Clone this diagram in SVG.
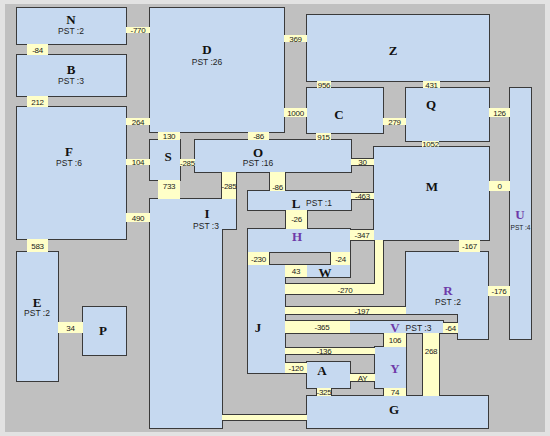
<svg xmlns="http://www.w3.org/2000/svg" xmlns:xlink="http://www.w3.org/1999/xlink" width="550" height="436" viewBox="0 0 550 436">
<style>
.ol{fill:none;stroke:#3a3a3a;stroke-width:2}
.rm{fill:#c6d9f0}
.dr{fill:#ffffc8}
.nm{font-family:"Liberation Serif","Times New Roman",serif;font-weight:bold;font-size:13px;text-anchor:middle;fill:#111}
.pu{fill:#6e3aa8}
.ps{font-family:"Liberation Sans",Arial,sans-serif;font-size:8.5px;text-anchor:middle;fill:#222}
.dl{font-family:"Liberation Sans",Arial,sans-serif;font-size:8px;text-anchor:middle;fill:#222;letter-spacing:-0.3px}
</style>
<defs>
<rect id="sN" x="17" y="8" width="109" height="36"/>
<rect id="sB" x="17" y="55" width="109" height="41"/>
<rect id="sF" x="17" y="107" width="109" height="132"/>
<rect id="sE" x="17" y="252" width="41" height="129"/>
<rect id="sP" x="83" y="307" width="43" height="48"/>
<rect id="sD" x="150" y="8" width="134" height="124"/>
<rect id="sZ" x="307" y="15" width="182" height="66"/>
<rect id="sC" x="307" y="88" width="76" height="45"/>
<rect id="sQ" x="406" y="88" width="83" height="53"/>
<rect id="sU" x="510" y="88" width="21" height="251"/>
<rect id="sM" x="374" y="147" width="115" height="93"/>
<rect id="sO" x="195" y="140" width="156" height="32"/>
<rect id="sS" x="150" y="140" width="30" height="40"/>
<polygon id="sI" points="150,199 236,199 236,229 222,229 222,428 150,428"/>
<rect id="sL" x="248" y="191" width="103" height="19"/>
<rect id="sH" x="248" y="229" width="102" height="23"/>
<rect id="sJ" x="248" y="265" width="37" height="108"/>
<rect id="sW" x="307" y="265" width="43" height="12"/>
<polygon id="sR" points="406,252 488,252 488,339 458,339 458,314 406,314"/>
<rect id="sV" x="350" y="321" width="93" height="12"/>
<rect id="sY" x="375" y="347" width="31" height="41"/>
<rect id="sA" x="307" y="362" width="43" height="26"/>
<rect id="sG" x="307" y="396" width="181" height="32"/>
<rect id="d285b" x="222" y="172" width="14" height="27"/>
<rect id="d86b" x="270" y="172" width="15" height="19"/>
<rect id="d26" x="286" y="210" width="21" height="19"/>
<rect id="d463" x="351" y="193" width="23" height="6"/>
<rect id="d30" x="351" y="159" width="23" height="6"/>
<rect id="d347" x="350" y="230" width="24" height="10"/>
<rect id="d230" x="248" y="252" width="21" height="13"/>
<rect id="d24" x="331" y="252" width="19" height="13"/>
<rect id="d43" x="285" y="265" width="22" height="12"/>
<polygon id="d270" points="285,284 375,284 375,240 383,240 383,294 285,294"/>
<rect id="d197" x="285" y="307" width="121" height="7"/>
<rect id="d365" x="285" y="321" width="65" height="12"/>
<rect id="d64" x="443" y="323" width="15" height="10"/>
<rect id="d106" x="384" y="333" width="22" height="14"/>
<rect id="d268" x="423" y="333" width="16" height="63"/>
<rect id="d136" x="285" y="348" width="90" height="6"/>
<rect id="d120" x="285" y="363" width="22" height="10"/>
<rect id="dAY" x="350" y="374" width="25" height="7"/>
<rect id="d325" x="317" y="388" width="14" height="8"/>
<rect id="d74" x="384" y="388" width="22" height="8"/>
<rect id="dIG" x="222" y="415" width="85" height="5"/>
</defs>
<rect x="0" y="0" width="550" height="436" fill="#e2e2e2"/>
<rect x="5" y="4" width="540" height="428" fill="#c0c0c0"/>
<g id="outlines" class="ol">
<use href="#sN"/><use href="#sB"/><use href="#sF"/><use href="#sE"/><use href="#sP"/><use href="#sD"/><use href="#sZ"/><use href="#sC"/><use href="#sQ"/><use href="#sU"/><use href="#sM"/><use href="#sO"/><use href="#sS"/><use href="#sI"/><use href="#sL"/><use href="#sH"/><use href="#sJ"/><use href="#sW"/><use href="#sR"/><use href="#sV"/><use href="#sY"/><use href="#sA"/><use href="#sG"/>
<use href="#d285b"/><use href="#d86b"/><use href="#d26"/><use href="#d463"/><use href="#d30"/><use href="#d347"/><use href="#d230"/><use href="#d24"/><use href="#d43"/><use href="#d270"/><use href="#d197"/><use href="#d365"/><use href="#d64"/><use href="#d106"/><use href="#d268"/><use href="#d136"/><use href="#d120"/><use href="#dAY"/><use href="#d325"/><use href="#d74"/><use href="#dIG"/>
</g>
<g id="N"><use href="#sN" class="rm"/><text class="nm" x="71" y="23.5">N</text><text class="ps" x="71" y="34">PST :2</text></g>
<g id="B"><use href="#sB" class="rm"/><text class="nm" x="71" y="73.5">B</text><text class="ps" x="71" y="84">PST :3</text></g>
<g id="F"><use href="#sF" class="rm"/><text class="nm" x="69" y="156">F</text><text class="ps" x="69" y="166">PST :6</text></g>
<g id="E"><use href="#sE" class="rm"/><text class="nm" x="37" y="306.5">E</text><text class="ps" x="37" y="316">PST :2</text></g>
<g id="P"><use href="#sP" class="rm"/><text class="nm" x="103" y="334.5">P</text></g>
<g id="D"><use href="#sD" class="rm"/><text class="nm" x="207" y="53.5">D</text><text class="ps" x="207" y="65">PST :26</text></g>
<g id="Z"><use href="#sZ" class="rm"/><text class="nm" x="393" y="54.5">Z</text></g>
<g id="C"><use href="#sC" class="rm"/><text class="nm" x="339" y="118.5">C</text></g>
<g id="Q"><use href="#sQ" class="rm"/><text class="nm" x="431" y="108.5">Q</text></g>
<g id="U"><use href="#sU" class="rm"/><text class="nm pu" x="520" y="218.5">U</text><text class="ps" x="520.5" y="230" textLength="20" lengthAdjust="spacingAndGlyphs" style="font-size:8px">PST :4</text></g>
<g id="M"><use href="#sM" class="rm"/><text class="nm" x="432" y="190.5">M</text></g>
<g id="O"><use href="#sO" class="rm"/><text class="nm" x="258" y="156.5">O</text><text class="ps" x="258" y="166">PST :16</text></g>
<g id="S"><use href="#sS" class="rm"/><text class="nm" x="168" y="160.5">S</text></g>
<g id="I"><use href="#sI" class="rm"/><text class="nm" x="207" y="218">I</text><text class="ps" x="206" y="229">PST :3</text></g>
<g id="L"><use href="#sL" class="rm"/><text class="nm" x="296" y="207.5">L</text><text class="ps" x="319" y="206">PST :1</text></g>
<g id="H"><use href="#sH" class="rm"/><text class="nm pu" x="297" y="240.5">H</text></g>
<g id="J"><use href="#sJ" class="rm"/><text class="nm" x="258" y="331.5">J</text></g>
<g id="W"><use href="#sW" class="rm"/><text class="nm" x="325" y="276.5">W</text></g>
<g id="R"><use href="#sR" class="rm"/><text class="nm pu" x="448" y="294.5">R</text><text class="ps" x="448" y="305">PST :2</text></g>
<g id="V"><use href="#sV" class="rm"/><text class="nm pu" x="395" y="332">V</text><text class="ps" x="418.5" y="331">PST :3</text></g>
<g id="Y"><use href="#sY" class="rm"/><text class="nm pu" x="395" y="372.5">Y</text></g>
<g id="A"><use href="#sA" class="rm"/><text class="nm" x="322" y="374.5">A</text></g>
<g id="G"><use href="#sG" class="rm"/><text class="nm" x="394" y="413.5">G</text></g>
<g id="connectors">
<rect class="dr" x="126" y="27" width="24" height="6"/><text class="dl" x="138" y="33">-770</text>
<rect class="dr" x="27" y="44" width="21" height="11"/><text class="dl" x="37.5" y="52.5">-84</text>
<rect class="dr" x="27" y="96" width="21" height="11"/><text class="dl" x="37.5" y="104.5">212</text>
<rect class="dr" x="126" y="118" width="24" height="7"/><text class="dl" x="138" y="124.5">264</text>
<rect class="dr" x="126" y="159" width="24" height="6"/><text class="dl" x="138" y="165">104</text>
<rect class="dr" x="126" y="213" width="24" height="9"/><text class="dl" x="138" y="220.5">490</text>
<rect class="dr" x="158" y="132" width="22" height="8"/><text class="dl" x="169" y="139">130</text>
<rect class="dr" x="248" y="132" width="21" height="8"/><text class="dl" x="258.5" y="139">-86</text>
<rect class="dr" x="180" y="159" width="15" height="7"/><text class="dl" x="187.5" y="165.5">-285</text>
<rect class="dr" x="158" y="180" width="22" height="19"/><text class="dl" x="169" y="189">733</text>
<rect class="dr" x="27" y="239" width="21" height="13"/><text class="dl" x="37.5" y="248.5">583</text>
<rect class="dr" x="58" y="322" width="25" height="11"/><text class="dl" x="70.5" y="330.5">34</text>
<rect class="dr" x="284" y="35" width="23" height="7"/><text class="dl" x="295.5" y="41.5">369</text>
<rect class="dr" x="284" y="108" width="23" height="9"/><text class="dl" x="295.5" y="115.5">1000</text>
<rect class="dr" x="317" y="81" width="14" height="7"/><text class="dl" x="324" y="87.5">956</text>
<rect class="dr" x="423" y="81" width="17" height="7"/><text class="dl" x="431.5" y="87.5">431</text>
<rect class="dr" x="383" y="118" width="23" height="7"/><text class="dl" x="394.5" y="124.5">279</text>
<rect class="dr" x="489" y="108" width="21" height="9"/><text class="dl" x="499.5" y="115.5">126</text>
<rect class="dr" x="316" y="133" width="15" height="7"/><text class="dl" x="323.5" y="139.5">915</text>
<rect class="dr" x="422" y="141" width="17" height="6"/><text class="dl" x="430.5" y="147">1052</text>
<rect class="dr" x="489" y="181" width="21" height="10"/><text class="dl" x="499.5" y="189">0</text>
<rect class="dr" x="459" y="240" width="21" height="12"/><text class="dl" x="469.5" y="249">-167</text>
<rect class="dr" x="488" y="286" width="22" height="10"/><text class="dl" x="499" y="294">-176</text>
<use href="#d285b" class="dr"/><text class="dl" x="229" y="189">-285</text>
<use href="#d86b" class="dr"/><text class="dl" x="277.5" y="190">-86</text>
<use href="#d26" class="dr"/><text class="dl" x="296.5" y="222">-26</text>
<use href="#d463" class="dr"/><text class="dl" x="362.5" y="199">-463</text>
<use href="#d30" class="dr"/><text class="dl" x="362.5" y="165">30</text>
<use href="#d347" class="dr"/><text class="dl" x="362" y="238">-347</text>
<use href="#d230" class="dr"/><text class="dl" x="258.5" y="261.5">-230</text>
<use href="#d24" class="dr"/><text class="dl" x="340.5" y="261.5">-24</text>
<use href="#d43" class="dr"/><text class="dl" x="296" y="274">43</text>
<use href="#d270" class="dr"/><text class="dl" x="345" y="292.5">-270</text>
<use href="#d197" class="dr"/><text class="dl" x="362" y="313.5">-197</text>
<use href="#d365" class="dr"/><text class="dl" x="322" y="330">-365</text>
<use href="#d64" class="dr"/><text class="dl" x="450.5" y="331">-64</text>
<use href="#d106" class="dr"/><text class="dl" x="395" y="343">106</text>
<use href="#d268" class="dr"/><text class="dl" x="431" y="354">268</text>
<use href="#d136" class="dr"/><text class="dl" x="324" y="354">-136</text>
<use href="#d120" class="dr"/><text class="dl" x="296" y="371">-120</text>
<use href="#dAY" class="dr"/><text class="dl" x="362.5" y="380.5">AY</text>
<use href="#d325" class="dr"/><text class="dl" x="324" y="395">-325</text>
<use href="#d74" class="dr"/><text class="dl" x="395" y="395">74</text>
<use href="#dIG" class="dr"/>
</g>
</svg>
